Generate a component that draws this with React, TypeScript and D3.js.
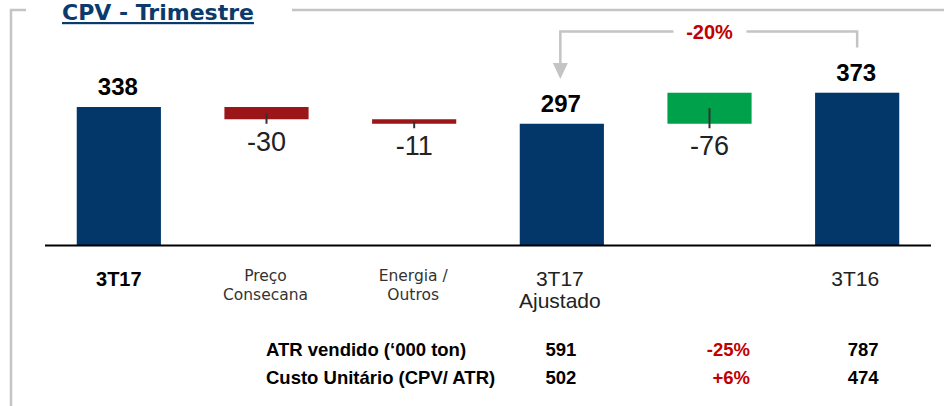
import React from "react";
import * as d3 from "d3";

const categories = ["3T17", "Preço Consecana", "Energia / Outros", "3T17 Ajustado", "", "3T16"];
const categoryLines = [["3T17"], ["Preço", "Consecana"], ["Energia /", "Outros"], ["3T17", "Ajustado"], [], ["3T16"]];
const values = [338, -30, -11, 297, -76, 373];
// total = full bar from 0; delta = step from running total; deltaRev = step anchored on next total
const kinds = ["total", "delta", "delta", "total", "deltaRev", "total"];
const valueLabels = ["338", "-30", "-11", "297", "-76", "373"];
const changeLabel = "-20%";

const rowLabels = ["ATR vendido (‘000 ton)", "Custo Unitário (CPV/ ATR)"];
const col3T17 = ["591", "502"];
const colChange = ["-25%", "+6%"];
const col3T16 = ["787", "474"];

const W = 944;
const H = 406;
const NAVY = "#03376a";
const RED_BAR = "#9b1519";
const GREEN = "#00a14b";
const RED_TXT = "#c00000";
const GRAY = "#c4c4c4";
const SANS = "'Liberation Sans', Arial, sans-serif";

export default function App() {
  const x = d3.scaleBand<string>().domain(categories.map((c, i) => String(i))).range([45, 931]).paddingInner(0.43).paddingOuter(0.215);
  const y = d3.scaleLinear().domain([0, 400]).range([245, 81.7]);

  // compute spans
  const spans: { lo: number; hi: number }[] = [];
  let running = 0;
  values.forEach((v, i) => {
    if (kinds[i] === "total") {
      running = v;
      spans.push({ lo: 0, hi: v });
    } else if (kinds[i] === "delta") {
      const a = running, b = running + v;
      running = b;
      spans.push({ lo: Math.min(a, b), hi: Math.max(a, b) });
    } else {
      spans.push({ lo: 0, hi: 0 });
    }
  });
  values.forEach((v, i) => {
    if (kinds[i] === "deltaRev") {
      const next = values[i + 1];
      const a = next, b = next + v;
      spans[i] = { lo: Math.min(a, b), hi: Math.max(a, b) };
    }
  });

  const bw = x.bandwidth();
  const cx = (i: number) => (x(String(i)) as number) + bw / 2;

  const fillFor = (i: number) => {
    if (kinds[i] === "total") return NAVY;
    if (kinds[i] === "delta") return RED_BAR;
    return GREEN;
  };

  const xA = cx(3) - 1.5;
  const xB = cx(5);
  const yTop = 31.5;
  const midX = cx(4);

  return (
    <div style={{ position: "absolute", left: 0, top: 0 }}>
      <svg width={W} height={H} style={{ display: "block" }}>
        <rect width={W} height={H} fill="#fff" />
        {/* frame */}
        <path d={`M11,${H} V10 H26`} fill="none" stroke={GRAY} strokeWidth={2.5} />
        <path d={`M292,10 H${W}`} fill="none" stroke={GRAY} strokeWidth={2.5} />
        {/* title */}
        <text x={62} y={20} fontFamily="'DejaVu Sans', sans-serif" fontWeight="bold" fontSize={22} fill="#0b3a6c" textDecoration="underline">
          CPV - Trimestre
        </text>

        {/* bars */}
        {values.map((v, i) => (
          <rect key={"b" + i} x={x(String(i))} y={y(spans[i].hi)} width={bw} height={y(spans[i].lo) - y(spans[i].hi)} fill={fillFor(i)} />
        ))}
        {/* connector ticks on delta bars */}
        {values.map((v, i) =>
          kinds[i] === "total" ? null : (
            <line key={"t" + i} x1={cx(i)} x2={cx(i)} y1={(y(spans[i].hi) + y(spans[i].lo)) / 2} y2={y(spans[i].lo) + 4.5} stroke="#333" strokeWidth={2} />
          )
        )}
        {/* axis */}
        <line x1={45} x2={931} y1={245.5} y2={245.5} stroke="#000" strokeWidth={2} />

        {/* value labels */}
        {values.map((v, i) =>
          kinds[i] === "total" ? (
            <text key={"v" + i} x={cx(i) - 1} y={y(spans[i].hi) - 12} textAnchor="middle" fontFamily={SANS} fontWeight="bold" fontSize={24} fill="#000">
              {valueLabels[i]}
            </text>
          ) : (
            <text key={"v" + i} x={cx(i)} y={y(spans[i].lo) + 31.5} textAnchor="middle" fontFamily={SANS} fontSize={27} fill="#222">
              {valueLabels[i]}
            </text>
          )
        )}

        {/* category labels */}
        {categoryLines.map((lines, i) => {
          if (i === 0)
            return (
              <text key={"c" + i} x={cx(i)} y={286} textAnchor="middle" fontFamily={SANS} fontWeight="bold" fontSize={20} fill="#000">
                {lines[0]}
              </text>
            );
          if (i === 1 || i === 2)
            return (
              <text key={"c" + i} textAnchor="middle" fontFamily="'DejaVu Sans', sans-serif" fontSize={15.5} fill="#333">
                {lines.map((l, k) => (
                  <tspan key={k} x={cx(i) - 1} y={281 + k * 19}>{l}</tspan>
                ))}
              </text>
            );
          return (
            <text key={"c" + i} textAnchor="middle" fontFamily={SANS} fontSize={21} fill="#222">
              {lines.map((l, k) => (
                <tspan key={k} x={cx(i) - 2} y={286 + k * 22}>{l}</tspan>
              ))}
            </text>
          );
        })}

        {/* -20% annotation */}
        <path d={`M${xB},47.5 V${yTop} H${midX + 37}`} fill="none" stroke={GRAY} strokeWidth={2.5} />
        <path d={`M${midX - 36},${yTop} H${xA} V66`} fill="none" stroke={GRAY} strokeWidth={2.5} />
        <path d={`M${xA - 7.5},63 L${xA + 7.5},63 L${xA},79 Z`} fill={GRAY} />
        <text x={midX} y={39} textAnchor="middle" fontFamily={SANS} fontWeight="bold" fontSize={20} fill={RED_TXT}>
          {changeLabel}
        </text>

        {/* table */}
        {rowLabels.map((r, k) => {
          const yy = 356 + k * 28;
          return (
            <g key={"r" + k} fontFamily={SANS} fontWeight="bold" fontSize={18.5}>
              <text x={266} y={yy} fill="#000">{r}</text>
              <text x={cx(3) - 1} y={yy} textAnchor="middle" fill="#000">{col3T17[k]}</text>
              <text x={750} y={yy} textAnchor="end" fill={RED_TXT}>{colChange[k]}</text>
              <text x={cx(5) + 6} y={yy} textAnchor="middle" fill="#000">{col3T16[k]}</text>
            </g>
          );
        })}
      </svg>
    </div>
  );
}
